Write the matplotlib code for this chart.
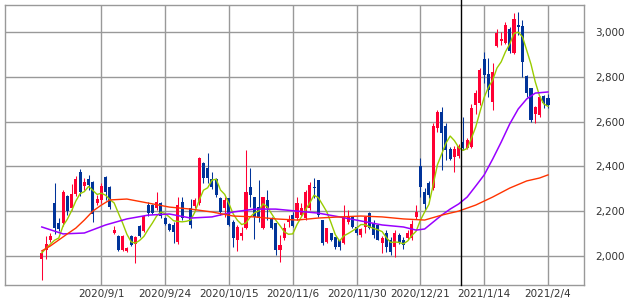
import matplotlib.pyplot as plt
import numpy as np
import pandas as pd
from matplotlib.ticker import FuncFormatter

nan = np.nan

# daily OHLC, one entry per trading day (10/1 had no trading)
opens = [1986, 2026, 2071, 2236, 2147, 2147, 2268, 2214, 2277, 2375,
         2312, 2344, 2330, 2236, 2250, 2353, 2308, 2102, 2089, 2026,
         2022, 2089, 2053, 2133, 2111, 2227, 2227, 2214, 2236, 2169,
         2142, 2138, 2062, 2241, nan, 2214, 2223, 2236, 2415, 2393,
         2344, 2344, 2259, 2214, 2259, 2151, 2071, 2089, 2124, 2308,
         2263, 2218, 2124, 2250, 2169, 2147, 2026, 2080, 2151, 2182,
         2169, 2182, 2169, 2214, 2308, 2339, 2160, 2062, 2102, 2084,
         2071, 2057, 2151, 2174, 2129, 2093, 2129, 2191, 2147, 2138,
         2057, 2102, 2071, 2039, 2093, 2071, 2080, 2080, 2174, 2402,
         2285, 2326, 2303, 2572, 2643, 2581, 2478, 2442, 2447, 2509,
         2482, 2487, 2675, 2684, 2881, 2813, 2688, 2939, 2961, 2952,
         3015, 2907, 3033, 3028, 2804, 2751, 2634, 2630, 2715, 2706]
highs = [2026, 2089, 2102, 2326, 2169, 2294, 2272, 2321, 2357, 2388,
         2348, 2362, 2335, 2272, 2326, 2357, 2312, 2133, 2093, 2093,
         2039, 2093, 2089, 2138, 2182, 2241, 2232, 2285, 2241, 2174,
         2147, 2151, 2263, 2263, nan, 2254, 2259, 2442, 2420, 2460,
         2375, 2348, 2263, 2263, 2259, 2160, 2138, 2129, 2473, 2393,
         2263, 2339, 2263, 2294, 2172, 2147, 2093, 2147, 2182, 2196,
         2263, 2236, 2294, 2330, 2348, 2341, 2162, 2126, 2104, 2086,
         2073, 2227, 2205, 2176, 2133, 2124, 2176, 2196, 2160, 2142,
         2089, 2115, 2084, 2115, 2102, 2084, 2115, 2160, 2227, 2438,
         2303, 2335, 2594, 2652, 2666, 2594, 2487, 2491, 2500, 2621,
         2527, 2679, 2742, 2840, 2912, 2885, 2863, 3015, 3001, 3046,
         3024, 3086, 3091, 3055, 2809, 2753, 2670, 2713, 2719, 2724]
lows = [1892, 1986, 2062, 2098, 2111, 2133, 2182, 2205, 2268, 2268,
        2294, 2294, 2151, 2227, 2236, 2250, 2209, 2098, 2022, 2022,
        2017, 2044, 1968, 2084, 2107, 2178, 2187, 2205, 2169, 2138,
        2111, 2057, 2053, 2160, nan, 2124, 2214, 2227, 2326, 2326,
        2299, 2263, 2182, 2174, 2133, 2039, 2022, 2071, 2120, 2218,
        2075, 2151, 2120, 2160, 2120, 2004, 1972, 2071, 2129, 2129,
        2160, 2180, 2160, 2205, 2259, 2174, 2048, 2057, 2066, 2030,
        2026, 2055, 2142, 2124, 2093, 2084, 2102, 2120, 2080, 2069,
        2013, 2017, 2004, 1995, 2053, 2030, 2071, 2071, 2165, 2263,
        2205, 2259, 2294, 2554, 2384, 2429, 2428, 2375, 2438, 2473,
        2478, 2482, 2634, 2675, 2773, 2711, 2652, 2934, 2943, 2948,
        2907, 2905, 2988, 2800, 2711, 2599, 2594, 2621, 2661, 2661]
closes = [2013, 2053, 2089, 2124, 2120, 2285, 2200, 2277, 2344, 2285,
          2330, 2317, 2187, 2254, 2312, 2285, 2218, 2115, 2026, 2089,
          2035, 2048, 2084, 2089, 2178, 2191, 2191, 2241, 2178, 2142,
          2115, 2107, 2227, 2169, nan, 2138, 2250, 2438, 2348, 2348,
          2308, 2272, 2196, 2250, 2138, 2080, 2129, 2102, 2285, 2272,
          2174, 2169, 2263, 2214, 2124, 2026, 2048, 2124, 2160, 2133,
          2236, 2214, 2285, 2317, 2303, 2182, 2057, 2124, 2071, 2039,
          2039, 2174, 2174, 2129, 2102, 2120, 2174, 2124, 2093, 2071,
          2080, 2039, 2017, 2102, 2062, 2048, 2102, 2142, 2196, 2308,
          2232, 2272, 2581, 2643, 2549, 2473, 2433, 2478, 2491, 2482,
          2518, 2661, 2728, 2831, 2809, 2742, 2822, 2997, 2970, 3033,
          2916, 3059, 3024, 2867, 2728, 2608, 2666, 2711, 2684, 2675]

# 25-day and 75-day averages at selected bars
ma25_bars = [0, 5, 10, 15, 20, 25, 30, 35, 40, 45, 50, 55, 60, 65, 70, 75, 80, 85,
             88, 90, 92, 94, 96, 98, 100, 102, 104, 106, 108, 110, 112, 114, 116, 119]
ma25_vals = [2129, 2098, 2102, 2138, 2165, 2182, 2187, 2169, 2174, 2196, 2209, 2209,
             2200, 2191, 2174, 2156, 2138, 2129, 2115, 2120, 2151, 2182, 2209, 2232,
             2263, 2312, 2362, 2433, 2509, 2590, 2657, 2702, 2728, 2733]
ma75_bars = [0, 2, 4, 6, 8, 10, 12, 14, 16, 20, 25, 30, 35, 40, 45, 50, 55, 60, 65,
             70, 75, 80, 85, 90, 94, 98, 102, 106, 110, 114, 117, 119]
ma75_vals = [2022, 2044, 2071, 2098, 2124, 2160, 2200, 2227, 2250, 2254, 2236, 2218,
             2209, 2196, 2178, 2174, 2165, 2160, 2169, 2174, 2178, 2174, 2165, 2160,
             2182, 2200, 2227, 2263, 2303, 2335, 2348, 2362]

tick_bars = [14, 29, 44, 59, 74, 89, 104, 119]
tick_labels = ['2020/9/1', '2020/9/24', '2020/10/15', '2020/11/6',
               '2020/11/30', '2020/12/21', '2021/1/14', '2021/2/4']
marker_bar = 98.5

UP = '#ff0033'
DOWN = '#003399'
GRID = '#999999'

o = np.array(opens, float)
h = np.array(highs, float)
l = np.array(lows, float)
c = np.array(closes, float)
x = np.arange(len(c))
ma5 = pd.Series(c).rolling(5, min_periods=1).mean()

fig = plt.figure(figsize=(6.31, 2.99), dpi=100)
ax = fig.add_axes([5 / 631, 14 / 299, 579 / 631, 280 / 299])

up = c >= o
cols = np.where(up, UP, DOWN)
ok = ~np.isnan(c)
ax.vlines(x[ok], l[ok], h[ok], colors=cols[ok], lw=0.75, zorder=2)
body_lo = np.minimum(o, c)
body_h = np.maximum(np.abs(c - o), 3)
ax.bar(x[ok], body_h[ok], bottom=body_lo[ok], width=0.72, color=cols[ok],
       linewidth=0, zorder=3)

ax.plot(x, ma5, color='#99cc00', lw=1.0, zorder=4)
ax.plot(ma25_bars, ma25_vals, color='#9900ff', lw=1.1, zorder=4)
ax.plot(ma75_bars, ma75_vals, color='#ff3300', lw=1.0, zorder=4)

ax.axvline(marker_bar, ymin=0, ymax=1 + 5 / 280, color='black', lw=1.0,
           clip_on=False, zorder=5)

ax.set_xlim(-8.65, 127.46)
ax.set_ylim(1869.4, 3122.1)
ax.set_yticks([2000, 2200, 2400, 2600, 2800, 3000])
ax.yaxis.set_major_formatter(FuncFormatter(lambda v, p: f'{int(v):,}'))
ax.yaxis.tick_right()
ax.set_xticks(tick_bars)
ax.set_xticklabels(tick_labels)
ax.tick_params(length=0, labelsize=7.5, colors='#333333')
ax.tick_params(axis='y', pad=8)
ax.tick_params(axis='x', pad=3)
ax.grid(True, color=GRID, lw=1.0, zorder=0)
ax.set_axisbelow(True)
for s in ax.spines.values():
    s.set_color(GRID)
    s.set_linewidth(1.0)

fig.savefig('out.png', dpi=100)
